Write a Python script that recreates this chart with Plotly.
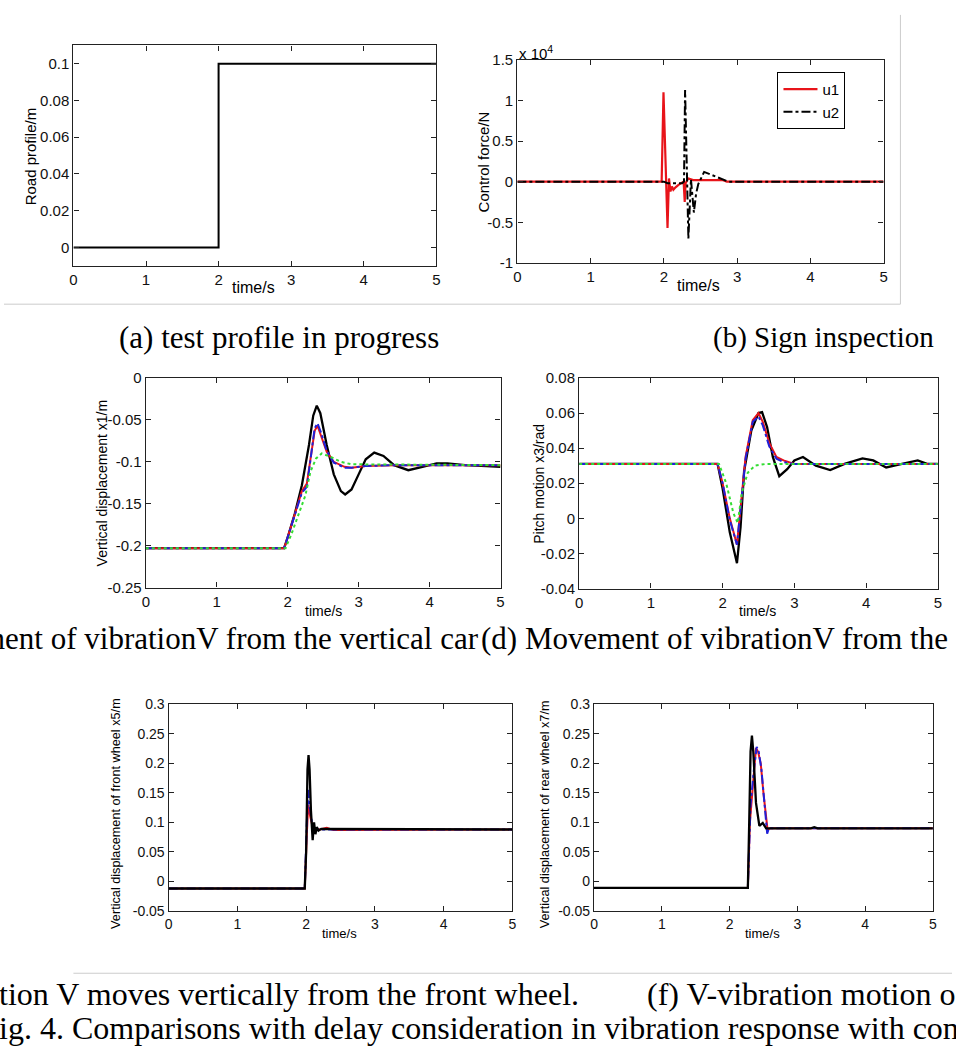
import plotly.graph_objects as go

W, H = 956, 1057
def X(px): return px / W
def Y(py): return 1 - py / H

# ---------------- data ----------------
# (a) road profile
road_t = [0, 2, 2, 5]
road_m = [0, 0, 0.1, 0.1]

# (b) control forces (N)
u1_t = [0, 1.5, 1.9, 1.97, 1.995, 2.05, 2.07, 2.09, 2.11, 2.13, 2.16, 2.2, 2.27, 2.285, 2.297, 2.33, 2.4, 2.8, 2.86, 5]
u1_N = [0, 0, 50, 0, 11000, -5700, 400, -1200, -600, -1000, -700, -400, 0, -2500, -200, 400, 200, 200, 0, 0]
u2_t = [0, 2.0, 2.05, 2.25, 2.275, 2.29, 2.335, 2.37, 2.41, 2.44, 2.47, 2.55, 2.88, 5]
u2_N = [0, 0, -200, -200, 0, 11300, -7000, 300, -3800, -1500, -300, 1200, 0, 0]

# (c) vertical displacement x1 (m)
c_black_t = [0, 1.95, 2.0, 2.1, 2.2, 2.3, 2.36, 2.41, 2.46, 2.55, 2.65, 2.75, 2.81, 2.9, 3.0, 3.1, 3.22, 3.35, 3.5, 3.7, 3.9, 4.1, 4.25, 4.5, 4.8, 5.0]
c_black = [-0.203, -0.203, -0.19, -0.162, -0.128, -0.08, -0.045, -0.033, -0.042, -0.08, -0.115, -0.135, -0.139, -0.133, -0.115, -0.097, -0.089, -0.093, -0.104, -0.110, -0.106, -0.102, -0.102, -0.104, -0.105, -0.106]
c_red_t = [0, 1.95, 2.0, 2.1, 2.2, 2.27, 2.33, 2.38, 2.42, 2.47, 2.55, 2.65, 2.8, 2.9, 3.1, 3.5, 5.0]
c_red = [-0.203, -0.203, -0.19, -0.163, -0.135, -0.126, -0.09, -0.063, -0.057, -0.068, -0.088, -0.100, -0.106, -0.107, -0.105, -0.104, -0.104]
c_blue_t = [0, 1.95, 2.0, 2.1, 2.2, 2.27, 2.33, 2.38, 2.42, 2.47, 2.55, 2.65, 2.8, 2.9, 3.1, 3.5, 5.0]
c_blue = [-0.203, -0.203, -0.19, -0.164, -0.137, -0.130, -0.088, -0.060, -0.054, -0.065, -0.087, -0.101, -0.107, -0.107, -0.105, -0.104, -0.104]
c_green_t = [0, 1.97, 2.05, 2.15, 2.25, 2.32, 2.4, 2.48, 2.6, 2.75, 2.9, 5.0]
c_green = [-0.203, -0.203, -0.187, -0.163, -0.140, -0.112, -0.096, -0.090, -0.094, -0.100, -0.103, -0.104]

# (d) pitch motion x3 (rad)
d_black_t = [0, 1.93, 2.0, 2.1, 2.2, 2.25, 2.3, 2.4, 2.5, 2.55, 2.62, 2.7, 2.79, 2.9, 3.0, 3.12, 3.3, 3.5, 3.7, 3.95, 4.1, 4.28, 4.5, 4.72, 4.85, 5.0]
d_black = [0.031, 0.031, 0.017, -0.008, -0.0256, -0.005, 0.027, 0.050, 0.060, 0.0605, 0.052, 0.035, 0.024, 0.028, 0.033, 0.035, 0.030, 0.0275, 0.031, 0.0342, 0.033, 0.029, 0.031, 0.033, 0.031, 0.031]
d_red_t = [0, 1.93, 2.0, 2.1, 2.2, 2.25, 2.32, 2.42, 2.5, 2.56, 2.65, 2.75, 2.85, 3.0, 5.0]
d_red = [0.031, 0.031, 0.020, 0.000, -0.015, 0.005, 0.035, 0.056, 0.060, 0.055, 0.043, 0.035, 0.033, 0.031, 0.031]
d_blue_t = [0, 1.93, 2.0, 2.1, 2.2, 2.25, 2.32, 2.42, 2.5, 2.56, 2.65, 2.75, 2.85, 3.0, 5.0]
d_blue = [0.031, 0.031, 0.020, -0.001, -0.015, 0.004, 0.034, 0.055, 0.058, 0.053, 0.041, 0.034, 0.032, 0.031, 0.031]
d_green_t = [0, 1.95, 2.05, 2.15, 2.21, 2.27, 2.35, 2.45, 2.6, 5.0]
d_green = [0.031, 0.031, 0.020, 0.003, -0.0026, 0.015, 0.026, 0.030, 0.031, 0.031]

# (e) front wheel x5 (m)
e_black_t = [0, 1.98, 2.0, 2.02, 2.035, 2.05, 2.07, 2.095, 2.115, 2.135, 2.155, 2.18, 2.22, 5.0]
e_black = [-0.012, -0.012, 0.05, 0.19, 0.214, 0.19, 0.12, 0.07, 0.10, 0.08, 0.092, 0.086, 0.089, 0.088]
e_red_t = [0, 1.98, 2.01, 2.03, 2.06, 2.1, 2.2, 2.3, 2.4, 5.0]
e_red = [-0.012, -0.012, 0.08, 0.13, 0.11, 0.09, 0.088, 0.091, 0.087, 0.088]
e_blue_t = [0, 1.98, 2.01, 2.03, 2.05, 2.09, 2.15, 5.0]
e_blue = [-0.012, -0.012, 0.10, 0.155, 0.13, 0.095, 0.088, 0.088]

# (f) rear wheel x7 (m)
f_black_t = [0, 2.27, 2.29, 2.31, 2.33, 2.35, 2.39, 2.44, 2.49, 2.54, 3.2, 3.25, 3.3, 5.0]
f_black = [-0.011, -0.011, 0.10, 0.22, 0.247, 0.22, 0.133, 0.094, 0.099, 0.09, 0.09, 0.092, 0.09, 0.09]
f_red_t = [0, 2.27, 2.30, 2.32, 2.35, 2.39, 2.42, 2.46, 2.50, 2.54, 2.56, 2.6, 5.0]
f_red = [-0.011, -0.011, 0.10, 0.13, 0.17, 0.226, 0.22, 0.20, 0.15, 0.10, 0.088, 0.09, 0.09]
f_blue_t = [0, 2.27, 2.31, 2.33, 2.36, 2.40, 2.43, 2.47, 2.51, 2.54, 2.555, 2.58, 5.0]
f_blue = [-0.011, -0.011, 0.13, 0.155, 0.19, 0.228, 0.22, 0.19, 0.135, 0.09, 0.081, 0.09, 0.09]

x_ticks = [0, 1, 2, 3, 4, 5]
a_yticks = [0, 0.02, 0.04, 0.06, 0.08, 0.1]
a_ylabels = ["0", "0.02", "0.04", "0.06", "0.08", "0.1"]
b_yticks = [-10000, -5000, 0, 5000, 10000, 15000]
b_ylabels = ["-1", "-0.5", "0", "0.5", "1", "1.5"]
c_yticks = [-0.25, -0.2, -0.15, -0.1, -0.05, 0]
c_ylabels = ["-0.25", "-0.2", "-0.15", "-0.1", "-0.05", "0"]
d_yticks = [-0.04, -0.02, 0, 0.02, 0.04, 0.06, 0.08]
d_ylabels = ["-0.04", "-0.02", "0", "0.02", "0.04", "0.06", "0.08"]
ef_yticks = [-0.05, 0, 0.05, 0.1, 0.15, 0.2, 0.25, 0.3]
ef_ylabels = ["-0.05", "0", "0.05", "0.1", "0.15", "0.2", "0.25", "0.3"]

# ---------------- figure ----------------
SANS = "Liberation Sans, Arial, sans-serif"
SERIF = "Liberation Serif, Times New Roman, serif"
RED = "#e8141a"
BLUE = "#2020d8"
GREEN = "#33dd33"

fig = go.Figure()

def line(n, t, v, color, dash="solid", width=2, name=None, show=False):
    sfx = "" if n == 1 else str(n)
    fig.add_trace(go.Scatter(x=t, y=v, mode="lines", xaxis="x" + sfx, yaxis="y" + sfx,
                             line=dict(color=color, dash=dash, width=width),
                             name=name, showlegend=show, hoverinfo="skip"))

line(1, road_t, road_m, "black")
line(2, u1_t, u1_N, RED, name="u1", show=True, width=2.2)
line(2, u2_t, u2_N, "black", dash="dashdot", name="u2", show=True)
line(3, c_black_t, c_black, "black", width=2.3)
line(3, c_red_t, c_red, RED)
line(3, c_blue_t, c_blue, BLUE, dash="dashdot")
line(3, c_green_t, c_green, GREEN, dash="dot")
line(4, d_black_t, d_black, "black", width=2.3)
line(4, d_red_t, d_red, RED)
line(4, d_blue_t, d_blue, BLUE, dash="dashdot")
line(4, d_green_t, d_green, GREEN, dash="dot")
line(5, e_red_t, e_red, RED)
line(5, e_blue_t, e_blue, BLUE, dash="dashdot")
line(5, e_black_t, e_black, "black", width=2.3)
line(6, f_red_t, f_red, RED)
line(6, f_blue_t, f_blue, BLUE, dash="dashdot")
line(6, f_black_t, f_black, "black", width=2.3)

panels = [
    # x0, x1, y0, y1 (px), yrange, yticks, ylabels, tick font
    (70, 436, 37, 261, [-0.01, 0.11], a_yticks, a_ylabels, 15),
    (517.7, 887, 51.7, 258, [-10000, 15000], b_yticks, b_ylabels, 15),
    (143, 500.7, 375, 588, [-0.25, 0], c_yticks, c_ylabels, 15),
    (580, 941.7, 375, 589, [-0.04, 0.08], d_yticks, d_ylabels, 15),
    (166, 512.7, 706.7, 916.7, [-0.05, 0.3], ef_yticks, ef_ylabels, 14),
    (595, 936.7, 706.7, 916.7, [-0.05, 0.3], ef_yticks, ef_ylabels, 14),
]

layout = dict(width=W, height=H, margin=dict(l=0, r=0, t=0, b=0),
              paper_bgcolor="white", plot_bgcolor="white",
              font=dict(family=SANS, color="black"))
for i, (x0, x1, y0, y1, yr, yt, yl, fs) in enumerate(panels, start=1):
    sfx = "" if i == 1 else str(i)
    common = dict(showline=True, linecolor="#222", linewidth=1.3, mirror="ticks",
                  ticks="inside", ticklen=5, tickcolor="#222", showgrid=False,
                  zeroline=False, tickfont=dict(family=SANS, size=fs, color="#111"))
    layout["xaxis" + sfx] = dict(domain=[X(x0), X(x1)], range=[0, 5], anchor="y" + sfx,
                                 tickvals=x_ticks, ticktext=[str(v) for v in x_ticks], **common)
    layout["yaxis" + sfx] = dict(domain=[Y(y1), Y(y0)], range=yr, anchor="x" + sfx,
                                 tickvals=yt, ticktext=yl, **common)
fig.update_layout(**layout)

fig.update_layout(legend=dict(x=X(780), y=Y(64), xanchor="left", yanchor="top",
                              bordercolor="black", borderwidth=1, bgcolor="white",
                              font=dict(family=SANS, size=15), itemwidth=34,
                              tracegroupgap=0))

ann = []
def text(px, py, s, size, font=SANS, xanchor="center", angle=0):
    ann.append(dict(x=X(px), y=Y(py), xref="paper", yref="paper", text=s, showarrow=False,
                    xanchor=xanchor, yanchor="middle", textangle=angle,
                    font=dict(family=font, size=size, color="black")))

# axis titles
text(252, 283, "time/s", 16)
text(700, 281, "time/s", 16)
text(322, 612, "time/s", 14)
text(760, 612, "time/s", 14)
text(338, 940, "time/s", 13)
text(765, 940, "time/s", 13)
text(27, 150, "Road profile/m", 15, angle=-90)
text(484, 155, "Control force/N", 15, angle=-90)
text(99, 482, "Vertical displacement x1/m", 14, angle=-90)
text(540, 482, "Pitch motion x3/rad", 14, angle=-90)
text(113, 818, "Vertical displacement of front wheel x5/m", 12.7, angle=-90)
text(545, 818, "Vertical displacement of rear wheel x7/m", 12.7, angle=-90)
text(517, 44, "x 10<sup>4</sup>", 15, xanchor="left")

# captions
CAP = 31
text(277, 334, "(a) test profile in progress", CAP, font=SERIF)
text(826, 334, "(b) Sign inspection", 29, font=SERIF)
text(481, 640, "ment of vibrationV from the vertical car", CAP, font=SERIF, xanchor="right")
text(479, 640, "(d) Movement of vibrationV from the", CAP, font=SERIF, xanchor="left")
text(-7, 1001, "tion V moves vertically from the front wheel.", 32, font=SERIF, xanchor="left")
text(646, 1001, "(f) V-vibration motion o", 32, font=SERIF, xanchor="left")
text(-7, 1036, "ig. 4. Comparisons with delay consideration in vibration response with con", 32, font=SERIF, xanchor="left")
fig.update_layout(annotations=ann)

shapes = [
    dict(type="line", xref="paper", yref="paper", x0=X(0), x1=X(904), y0=Y(300), y1=Y(300),
         line=dict(color="#cccccc", width=1)),
    dict(type="line", xref="paper", yref="paper", x0=X(904), x1=X(904), y0=Y(6), y1=Y(300),
         line=dict(color="#cccccc", width=1)),
    dict(type="line", xref="paper", yref="paper", x0=X(70), x1=X(956), y0=Y(980), y1=Y(980),
         line=dict(color="#cccccc", width=1)),
]
fig.update_layout(shapes=shapes)

fig.write_html("out.html")
